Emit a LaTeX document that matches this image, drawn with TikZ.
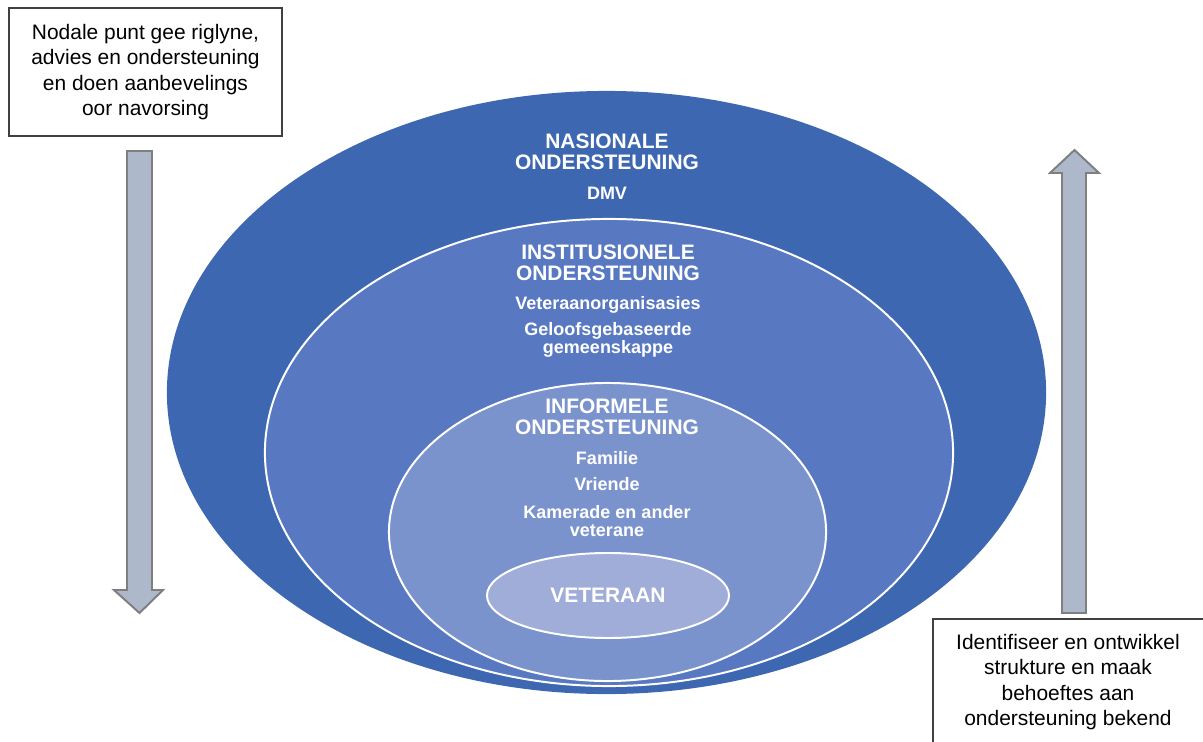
\documentclass[tikz,border=0pt]{standalone}
\usepackage{fontspec}
\setmainfont{Liberation Sans}
\usepackage{xcolor}
\usepackage{tikz}
\usetikzlibrary{shapes.geometric,positioning}
\definecolor{nasBlue}{RGB}{61,103,177}
\definecolor{instBlue}{RGB}{88,121,193}
\definecolor{infBlue}{RGB}{123,147,205}
\definecolor{vetBlue}{RGB}{160,173,216}
\definecolor{arrowFill}{RGB}{173,185,202}
\definecolor{arrowEdge}{RGB}{127,127,127}
\definecolor{boxEdge}{RGB}{64,64,64}

\begin{document}
\begin{tikzpicture}[x=0.025cm,y=-0.025cm,
    ring/.style={ellipse, draw=white, line width=1.4pt, inner sep=0pt},
    ringhead/.style={text=white, font=\fontsize{14.9}{14.9}\selectfont\bfseries, align=center, inner sep=0pt},
    ringitem/.style={text=white, font=\fontsize{12.8}{13.3}\selectfont\bfseries, align=center, inner sep=0pt},
    notetext/.style={font=\fontsize{14.9}{18.1}\selectfont, align=center, inner sep=0pt},
    blockarrow/.style={fill=arrowFill, draw=arrowEdge, line width=1.4pt, line join=miter}]

    \clip (0,0) rectangle (1203,742);

    % =========================
    % Rings: national => veteran
    % =========================
    \node[ring, draw=nasBlue, fill=nasBlue, minimum width=21.925cm, minimum height=15.025cm] (nasionaal) at (606.5,392.5) {};
    \node[ring, fill=instBlue, minimum width=17.2cm, minimum height=11.675cm] (institusioneel) at (609,452.5) {};
    \node[ring, fill=infBlue, minimum width=10.925cm, minimum height=7.45cm] (informeel) at (607.5,532) {};
    \node[ring, fill=vetBlue, minimum width=6.05cm, minimum height=2.125cm] (veteraan) at (608,595.5) {};

    % labels of the national ring
    \node[ringhead] (nasKop) at (607,152) {NASIONALE\\ONDERSTEUNING};
    \node[ringitem] (dmv) at (607,193) {DMV};

    % labels of the institutional ring
    \node[ringhead] (instKop) at (608,263) {INSTITUSIONELE\\ONDERSTEUNING};
    \node[ringitem] (vetOrg) at (608,305) {Veteraanorganisasies};
    \node[ringitem] (geloof) at (608,340) {Geloofsgebaseerde\\gemeenskappe};

    % labels of the informal ring
    \node[ringhead] (infKop) at (607,416.5) {INFORMELE\\ONDERSTEUNING};
    \node[ringitem] (familie) at (607,458) {Familie};
    \node[ringitem] (vriende) at (607,484) {Vriende};
    \node[ringitem] (kamerade) at (607,521) {Kamerade en ander\\veterane};

    % centre
    \node[ringhead] at (veteraan) {VETERAAN};

    % =========================
    % Left: guidance flows down
    % =========================
    \node[draw=boxEdge, line width=0.8pt, minimum width=6.825cm, minimum height=3.2cm] (nodaal) at (145.5,72) {};
    \node[notetext] (nodaalTeks) at (nodaal) {Nodale punt gee riglyne,\\advies en ondersteuning\\en doen aanbevelings\\oor navorsing};
    \draw[blockarrow] (127,151) -- (152,151) -- (152,590) -- (163,590) -- (139.5,613) -- (114,590) -- (127,590) -- cycle;

    % =========================
    % Right: needs flow up
    % =========================
    \draw[blockarrow] (1062,613) -- (1086,613) -- (1086,173) -- (1099,173) -- (1074.5,150) -- (1050,173) -- (1062,173) -- cycle;
    \draw[boxEdge, line width=0.8pt] (933,619) rectangle (1215,760);
    \node[notetext] (behoefteTeks) at (1068,682) {Identifiseer en ontwikkel\\strukture en maak\\behoeftes aan\\ondersteuning bekend};

\end{tikzpicture}
\end{document}
